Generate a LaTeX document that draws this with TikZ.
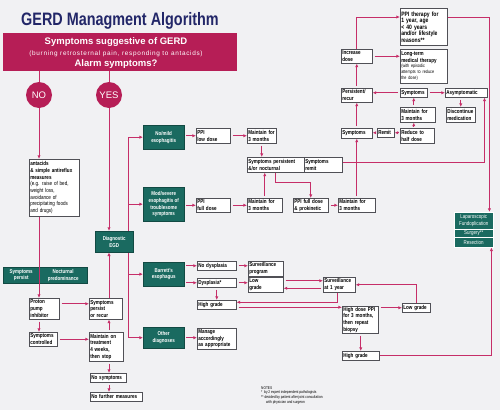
\documentclass[tikz,border=0pt]{standalone}
\usepackage{fontspec}
\setmainfont{Liberation Sans}
\newfontfamily\condsf[FakeStretch=0.8]{Liberation Sans}
\usepackage{tikz}
\usetikzlibrary{arrows.meta,backgrounds}
\definecolor{gerdred}{RGB}{182,30,86}
\definecolor{gerdline}{RGB}{198,46,104}
\definecolor{gerdteal}{RGB}{26,106,96}
\definecolor{gerdnavy}{RGB}{34,38,104}
\definecolor{boxline}{RGB}{80,80,86}
\definecolor{paper}{RGB}{241,241,243}
\newcommand\bxfont{\condsf\bfseries\fontsize{5.7}{6.7}\selectfont}
\newcommand\tlfont{\condsf\bfseries\fontsize{5.6}{6.8}\selectfont}
\newcommand\smfont{\condsf\mdseries\fontsize{4.7}{5.3}\selectfont}
\newcommand\bigfont{\condsf\bfseries\fontsize{6.3}{6.5}\selectfont}

\begin{document}
\begin{tikzpicture}[x=1pt, y=-1pt,
  pbox/.style={draw=boxline, fill=white, line width=.5pt, anchor=north west, align=left, inner xsep=1pt, inner ysep=.8pt, font=\bxfont},
  tbox/.style={fill=gerdteal, draw=gerdteal!70!black, line width=.4pt, text=white, align=center, anchor=north west, inner sep=0pt, font=\tlfont},
  wire/.style={gerdline, line width=.7pt},
  arr/.style={wire, -{Triangle[length=3.2pt,width=2.8pt]}, shorten >=.4pt},
  offbox/.style={shorten <=2pt}]
  \begin{scope}[on background layer]
    \fill[paper] (0,0) rectangle (500,410);
  \end{scope}
  \useasboundingbox (0,0) rectangle (500,410);

  % heading and alarm question
  \node[font=\condsf\bfseries\fontsize{18}{20}\selectfont, text=gerdnavy] (title) at (120,21) {GERD Managment Algorithm};
  \node[fill=gerdred, minimum width=234pt, minimum height=38pt, inner sep=0pt] (banner) at (120,52) {};
  \node[text=white, font=\bfseries\fontsize{9.5}{11}\selectfont] (bnA) at (116,42) {Symptoms suggestive of GERD};
  \node[text=white, font=\fontsize{6.4}{7}\selectfont\addfontfeatures{LetterSpace=11}] (bnB) at (116,54) {(burning retrosternal pain, responding to antacids)};
  \node[text=white, font=\bfseries\fontsize{9.5}{11}\selectfont] (bnC) at (116,64) {Alarm symptoms?};
  \node[circle, fill=gerdred, text=white, minimum size=26pt, inner sep=0pt, font=\fontsize{9.5}{10}\selectfont] (no) at (39,95) {NO};
  \node[circle, fill=gerdred, text=white, minimum size=26pt, inner sep=0pt, font=\fontsize{9.5}{10}\selectfont] (yes) at (109,95) {YES};

  % no alarm branch
  \node[pbox, text width=48pt, minimum height=57pt] (antacid) at (29,159) {antacids\\ \& simple antireflux\\ measures\\ \mdseries (e.g. raise of bed,\\ weight loss,\\ avoidance of\\ precipitating foods\\ and drugs)};
  \node[tbox, minimum width=36pt, minimum height=16pt] (persist0) at (3,267) {Symptoms\\persist};
  \node[tbox, minimum width=48pt, minimum height=16pt] (noct) at (39,267) {Nocturnal\\predominance};
  \node[pbox, text width=28pt, minimum height=21pt] (ppi) at (29,298) {Proton\\ pump\\ inhibitor};
  \node[pbox, text width=26pt, minimum height=14pt] (ctrl) at (29,332) {Symptoms\\ controlled};
  \node[pbox, text width=31pt, minimum height=21pt] (recur) at (89,298) {Symptoms\\ persist\\ or recur};
  \node[pbox, text width=32pt, minimum height=29pt] (stop) at (89,332) {Maintain on\\ treatment\\ 4 weeks,\\ then stop};
  \node[pbox, text width=34pt, minimum height=9pt] (nosym) at (90,373) {No symptoms};
  \node[pbox, text width=50pt, minimum height=9pt] (nomore) at (90,392) {No further measures};

  % endoscopy and its findings
  \coordinate (trunk) at (128,0);
  \node[tbox, minimum width=41pt, minimum height=24pt] (nomild) at (143,125) {No/mild\\esophagitis};
  \node[tbox, minimum width=41pt, minimum height=34pt] (modsev) at (143,187) {Mod/severe\\esophagitis of\\troublesome\\symptoms};
  \node[tbox, minimum width=41pt, minimum height=24pt] (barrett) at (143,262) {Barrett’s\\esophagus};
  \node[tbox, minimum width=41pt, minimum height=21pt] (other) at (143,327) {Other\\diagnoses};
  \begin{scope}[on background layer]
    \draw[wire] (trunk |- nomild) -- (trunk |- other);
  \end{scope}
  \node[tbox, minimum width=38pt, minimum height=21pt] (egd) at (95,231) {Diagnostic\\EGD};

  \node[pbox, text width=32pt, minimum height=15pt] (ppilow) at (196,128) {PPI\\ low dose};
  \node[pbox, text width=27pt, minimum height=15pt] (keep1) at (247,128) {Maintain for\\ 3 months};
  \node[pbox, text width=55pt, minimum height=15pt] (stillsym) at (247,157) {Symptoms persistent\\ \&/or nocturnal};
  \node[pbox, text width=36pt, minimum height=15pt] (remit) at (304,157) {Symptoms\\ remit};
  \node[pbox, text width=32pt, minimum height=14pt] (ppifull) at (196,198) {PPI\\ full dose};
  \node[pbox, text width=33pt, minimum height=14pt] (keep2) at (247,198) {Maintain for\\ 3 months};
  \node[pbox, text width=33pt, minimum height=14pt] (prokin) at (293,198) {PPI full dose\\ \& prokinetic};
  \node[pbox, text width=35pt, minimum height=14pt] (keep3) at (338,198) {Maintain for\\ 3 months};

  % long-term management
  \node[pbox, text width=45pt, minimum height=37pt, font=\bigfont] (ppiyear) at (400,8) {PPI therapy for\\ 1 year, age\\ < 40 years\\ and/or lifestyle\\ reasons**};
  \node[pbox, text width=45pt, minimum height=34pt] (longterm) at (400,49) {Long-term\\ medical therapy\par\smfont (with episodic\\ attempts to reduce\\ the dose)};
  \node[pbox, text width=29pt, minimum height=14pt] (incr) at (341,49) {Increase\\ dose};
  \node[pbox, text width=29pt, minimum height=14pt] (recur2) at (341,88) {Persistent/\\ recur};
  \node[pbox, text width=25pt, minimum height=9pt] (symmid) at (400,88) {Symptoms};
  \node[pbox, text width=40pt, minimum height=9pt] (asym) at (445,88) {Asymptomatic};
  \node[pbox, text width=27pt, minimum height=15pt] (disc) at (446,107) {Discontinue\\ medication};
  \node[pbox, text width=33pt, minimum height=15pt] (keep4) at (400,107) {Maintain for\\ 3 months};
  \node[pbox, text width=32pt, minimum height=15pt] (half) at (400,128) {Reduce to\\ half dose};
  \node[pbox, text width=15pt, minimum height=9pt] (remit2) at (377,128) {Remit};
  \node[pbox, text width=29pt, minimum height=10pt] (symlow) at (341,128) {Symptoms};

  \node[tbox, minimum width=39pt, minimum height=17pt, draw=white, font=\tlfont\mdseries] (lapa) at (454,212) {Laparoscopic\\Fundoplication};
  \node[tbox, minimum width=39pt, minimum height=8pt, draw=white, font=\tlfont\mdseries] (lapb) at (454,229) {Surgery**};
  \node[tbox, minimum width=39pt, minimum height=10pt, draw=white, font=\tlfont\mdseries] (lapc) at (454,237) {Resection};

  % Barrett's and other
  \node[pbox, text width=37pt, minimum height=9pt] (nodys) at (197,261) {No dysplasia};
  \node[pbox, text width=37pt, minimum height=9pt] (dys) at (197,278) {Dysplasia*};
  \node[pbox, text width=33pt, minimum height=15pt] (survprog) at (248,261) {Surveillance\\ program};
  \node[pbox, text width=33pt, minimum height=15pt] (lowg) at (248,277) {Low\\ grade};
  \node[pbox, text width=37pt, minimum height=9pt] (highg) at (197,300) {High grade};
  \node[pbox, text width=30pt, minimum height=15pt] (surv1y) at (323,277) {Surveillance\\ at 1 year};
  \node[pbox, text width=34pt, minimum height=27pt] (highppi) at (342,306) {High dose PPI\\ for 3 months,\\ then repeat\\ biopsy};
  \node[pbox, text width=26pt, minimum height=9pt] (lowg2) at (402,303) {Low grade};
  \node[pbox, text width=35pt, minimum height=9pt] (highg2) at (342,351) {High grade};
  \node[pbox, text width=37pt, minimum height=21pt] (manage) at (197,328) {Manage\\ accordingly\\ as appropriate};

  \node[anchor=north west, align=left, inner sep=0pt, font=\condsf\fontsize{4}{4.9}\selectfont] (notes) at (261,386) {NOTES\\ * \ by 2 expert independent pathologists\\ ** decided by patient after joint consultation\\ \hspace*{5pt}with physician and surgeon};

  % connectors
  \draw[wire] (banner.south -| no) -- (no);
  \draw[arr] (no) -- (antacid.north -| no);
  \draw[wire] (banner.south -| yes) -- (yes);
  \draw[arr] (yes) -- (egd.north -| yes);
  \draw[arr] (antacid.south -| no) -- (ppi.north -| no);
  \draw[arr, offbox] (ppi.south -| no) -- (ctrl.north -| no);
  \draw[arr, offbox] ([yshift=5pt]ppi.east) -- ([yshift=5pt]ppi.east -| recur.west);
  \draw[arr, offbox] (ctrl.east) -- (ctrl.east -| stop.west);
  \draw[arr, offbox] (stop.north -| yes) -- (recur.south -| yes);
  \draw[arr] (recur.north -| yes) -- (egd.south -| yes);
  \draw[arr, offbox] (stop.south -| yes) -- (nosym.north -| yes);
  \draw[arr, offbox] (nosym.south -| yes) -- (nomore.north -| yes);
  \foreach \t in {nomild,modsev,barrett,other}
    \draw[arr] (trunk |- \t.west) -- (\t.west);

  \draw[arr, offbox] (nomild.east |- ppilow) -- (ppilow);
  \draw[arr, offbox] (ppilow) -- (keep1);
  \draw[arr, offbox] (keep1) -- (keep1 |- stillsym.north);
  \draw[arr, offbox] (keep2) -- (keep2 |- stillsym.south);
  \draw[arr] (stillsym.south) -- ++(0,10) -| (prokin.north);
  \draw[arr, offbox] (modsev.east |- ppifull) -- (ppifull);
  \draw[arr, offbox] (ppifull) -- (keep2);
  \draw[arr, offbox] (prokin) -- (keep3);
  \draw[arr, offbox] (keep3) -- (keep3 |- symlow.south);
  \draw[arr] ([yshift=2pt]remit.east) -| ([xshift=-3pt]asym.south east);

  \draw[arr] (incr.north) |- ([yshift=-9pt]ppiyear.north west);
  \draw[arr, offbox] (incr) -- (incr -| longterm.west);
  \draw[arr, offbox] (recur2) -- (recur2 |- incr.south);
  \draw[arr, offbox] (symmid) -- (symmid -| recur2.east);
  \draw[arr, offbox] (symmid) -- (asym);
  \draw[arr, offbox] (disc.north |- asym.south) -- (disc.north);
  \draw[arr, offbox] (symmid.south |- keep4.north) -- (symmid.south);
  \draw[arr, offbox] (symmid.south |- half.north) -- (symmid.south |- keep4.south);
  \draw[arr, offbox] (half.west |- remit2) -- (remit2);
  \draw[arr, offbox] (remit2) -- (remit2 -| symlow.east);
  \draw[arr, offbox] (symlow) -- (symlow |- recur2.south);
  \draw[arr] ([yshift=-9pt]ppiyear.north east) -| ([xshift=-4pt]lapa.north east);
  \draw[arr] (highg2.east) -| ([xshift=-2pt]lapc.south east);

  \draw[arr, offbox] (barrett.east |- nodys) -- (nodys);
  \draw[arr, offbox] (barrett.east |- dys) -- (dys);
  \draw[arr, offbox] (nodys) -- (nodys -| survprog.west);
  \draw[arr, offbox] (dys) -- (dys -| lowg.west);
  \draw[arr, offbox] (dys) -- (dys |- highg.north);
  \draw[arr, offbox] ([yshift=4pt]lowg.east) -- ([yshift=4pt]lowg.east -| surv1y.west);
  \draw[arr, offbox] ([yshift=-3.5pt]surv1y.west) -- ([yshift=-3.5pt]surv1y.west -| lowg.east);
  \draw[arr] ([xshift=-2pt]surv1y.south) |- ([yshift=2.5pt]highg.east);
  \draw[arr, offbox] ([yshift=-2.5pt]highg.east) -- ([yshift=-2.5pt]highg.east -| highppi.west);
  \draw[arr, offbox] (highppi.east |- lowg2) -- (lowg2);
  \draw[arr] (lowg2.north) |- (surv1y.east);
  \draw[arr, offbox] (highg2.north |- highppi.south) -- (highg2.north);
  \draw[arr, offbox] (other) -- (other -| manage.west);
\end{tikzpicture}
\end{document}
